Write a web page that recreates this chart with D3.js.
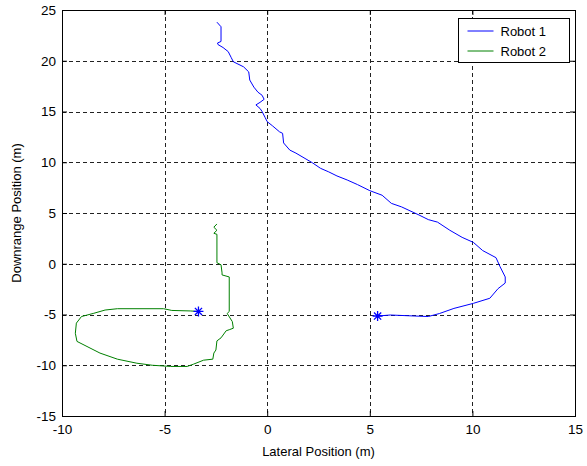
<!DOCTYPE html>
<html>
<head>
<meta charset="utf-8">
<script src="https://cdn.jsdelivr.net/npm/d3@7"></script>
<style>
  body { margin: 0; background: #fff; }
  text { font-family: "Liberation Sans", Arial, sans-serif; }
</style>
</head>
<body>
<div id="grafico"></div>
<script>
// trajetorias (m)
const robot1X = [5.38, 6.0, 7.2, 7.85, 8.4, 9.1, 10.05, 10.85, 11.25, 11.6, 11.6, 11.35, 11.15, 10.5, 10.05, 9.5, 8.9, 8.3, 7.85, 7.4, 6.55, 6.05, 5.6, 5.0, 4.4, 3.9, 3.4, 3.0, 2.6, 2.2, 1.4, 1.1, 0.8, 0.75, 0.6, 0.25, 0.0, -0.1, -0.25, -0.35, -0.55, -0.35, -0.15, -0.25, -0.45, -0.65, -0.85, -0.9, -1.15, -1.65, -1.75, -1.9, -2.15, -2.4, -2.42, -2.25, -2.25, -2.45];
const robot1Y = [-5.15, -5.05, -5.15, -5.2, -4.9, -4.4, -3.9, -3.4, -2.45, -1.9, -1.3, -0.3, 0.6, 1.3, 2.1, 2.6, 3.3, 4.1, 4.35, 4.8, 5.6, 5.95, 6.75, 7.2, 7.8, 8.25, 8.65, 9.05, 9.4, 9.95, 10.9, 11.2, 11.9, 12.85, 13.0, 13.6, 14.0, 14.4, 15.0, 15.3, 15.65, 15.9, 16.2, 16.6, 16.9, 17.4, 18.1, 18.9, 19.4, 19.9, 20.3, 20.9, 21.3, 21.6, 21.75, 21.9, 23.35, 23.8];
const robot2X = [-3.35, -3.75, -4.65, -5.05, -7.3, -7.9, -8.45, -9.05, -9.3, -9.35, -9.27, -8.15, -7.3, -6.35, -5.6, -4.7, -3.9, -3.6, -3.1, -2.65, -2.6, -2.5, -2.45, -2.25, -2.0, -1.85, -1.65, -1.7, -1.95, -1.85, -1.85, -2.2, -2.2, -2.25, -2.45, -2.45, -2.6, -2.45, -2.6, -2.45];
const robot2Y = [-4.7, -4.65, -4.6, -4.43, -4.43, -4.56, -4.88, -5.2, -5.85, -6.85, -7.65, -8.8, -9.4, -9.8, -10.0, -10.12, -10.12, -9.9, -9.5, -9.4, -8.8, -8.5, -7.6, -7.3, -6.6, -6.5, -6.35, -5.7, -4.9, -4.7, -1.3, -1.1, -0.9, -0.1, 0.1, 2.9, 3.0, 3.3, 3.6, 3.92];
// marcadores * (inicio)
const inicioX = [5.38, -3.35];
const inicioY = [-5.15, -4.7];
const xTicks = [-10, -5, 0, 5, 10, 15];
const yTicks = [-15, -10, -5, 0, 5, 10, 15, 20, 25];
const series = ["Robot 1", "Robot 2"];
const cores = ["#0000ff", "#008000"];

const largura = 587;
const altura = 466;
const m = { top: 10, right: 12, bottom: 50, left: 62 };
const w = largura - m.left - m.right;
const h = altura - m.top - m.bottom;

const svg = d3.select("#grafico")
    .append("svg")
    .attr("width", largura)
    .attr("height", altura)
    .style("background", "#fff");

const g = svg.append("g").attr("transform", `translate(${m.left},${m.top})`);

const x = d3.scaleLinear().domain([-10, 15]).range([0, w]);
const y = d3.scaleLinear().domain([-15, 25]).range([h, 0]);

//grade tracejada
g.selectAll(".gx")
    .data(xTicks.slice(1, -1))
    .enter()
    .append("line")
    .attr("x1", d => Math.round(x(d)) + 0.5)
    .attr("x2", d => Math.round(x(d)) + 0.5)
    .attr("y1", 0)
    .attr("y2", h)
    .attr("stroke", "#222")
    .attr("stroke-dasharray", "4,3");
g.selectAll(".gy")
    .data(yTicks.slice(1, -1))
    .enter()
    .append("line")
    .attr("y1", d => Math.round(y(d)) + 0.5)
    .attr("y2", d => Math.round(y(d)) + 0.5)
    .attr("x1", 0)
    .attr("x2", w)
    .attr("stroke", "#222")
    .attr("stroke-dasharray", "4,3");

//eixos (hifen simples como no matlab)
const fmt = d => String(d);
const eixoX = g.append("g")
    .attr("transform", `translate(0,${h})`)
    .call(d3.axisBottom(x).tickValues(xTicks).tickSize(-5).tickPadding(8).tickFormat(fmt));
const eixoY = g.append("g")
    .call(d3.axisLeft(y).tickValues(yTicks).tickSize(-5).tickPadding(6).tickFormat(fmt));
g.append("g").call(d3.axisTop(x).tickValues(xTicks).tickSize(-5).tickFormat(""));
g.append("g").attr("transform", `translate(${w},0)`)
    .call(d3.axisRight(y).tickValues(yTicks).tickSize(-5).tickFormat(""));
g.selectAll(".domain").remove();
g.selectAll(".tick line").attr("stroke", "#000");
[eixoX, eixoY].forEach(e => e.selectAll("text")
    .attr("fill", "#000")
    .style("font-size", "13.5px")
    .style("font-family", "'Liberation Sans', Arial, sans-serif"));

//linhas
const linha = d3.line().x(d => x(d[0])).y(d => y(d[1]));
const trajetos = [d3.zip(robot1X, robot1Y), d3.zip(robot2X, robot2Y)];
g.selectAll(".traj")
    .data(trajetos)
    .enter()
    .append("path")
    .attr("d", linha)
    .attr("fill", "none")
    .attr("stroke", (d, i) => cores[i])
    .attr("stroke-width", 1);

//marcador estrela
const estrela = { draw(ctx, size) {
    const r = Math.sqrt(size) / 2, s = r * 0.72;
    ctx.moveTo(-r, 0); ctx.lineTo(r, 0);
    ctx.moveTo(0, -r); ctx.lineTo(0, r);
    ctx.moveTo(-s, -s); ctx.lineTo(s, s);
    ctx.moveTo(-s, s); ctx.lineTo(s, -s);
} };
g.selectAll(".star")
    .data(d3.zip(inicioX, inicioY))
    .enter()
    .append("path")
    .attr("transform", d => `translate(${x(d[0])},${y(d[1])})`)
    .attr("d", d3.symbol().type(estrela).size(100))
    .attr("fill", "none")
    .attr("stroke", "#0000ff")
    .attr("stroke-width", 1.3);

//caixa
g.append("rect")
    .attr("x", 0.5).attr("y", 0.5)
    .attr("width", w).attr("height", h)
    .attr("fill", "none").attr("stroke", "#000");

//legenda
const leg = svg.append("g").attr("transform", "translate(458.5,18.5)");
leg.append("rect")
    .attr("width", 111).attr("height", 44)
    .attr("fill", "#fff").attr("stroke", "#000");
series.forEach((s, i) => {
    leg.append("line")
        .attr("x1", 9).attr("x2", 35)
        .attr("y1", 12.5 + i * 20).attr("y2", 12.5 + i * 20)
        .attr("stroke", cores[i]);
    leg.append("text")
        .attr("x", 42).attr("y", 17 + i * 20)
        .attr("fill", "#000")
        .style("font-size", "13px")
        .text(s);
});

//titulos dos eixos
svg.append("text")
    .attr("x", m.left + w / 2)
    .attr("y", 456)
    .attr("text-anchor", "middle")
    .style("font-size", "13px")
    .text("Lateral Position (m)");
svg.append("text")
    .attr("transform", `translate(21,${m.top + h / 2}) rotate(-90)`)
    .attr("text-anchor", "middle")
    .style("font-size", "13px")
    .text("Downrange Position (m)");
</script>
</body>
</html>
